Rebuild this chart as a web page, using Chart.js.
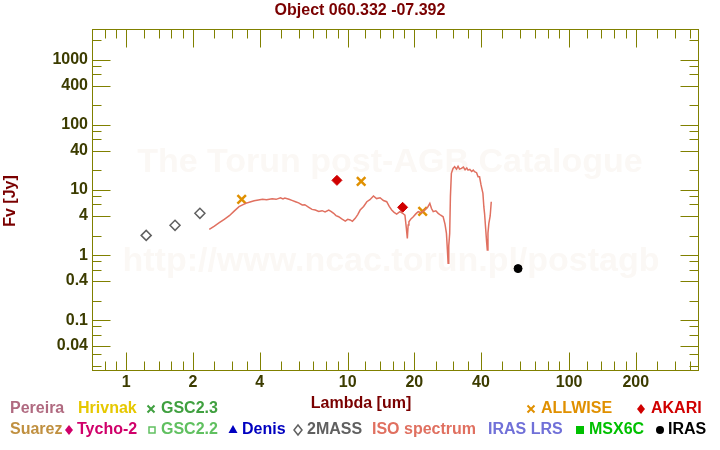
<!DOCTYPE html>
<html>
<head>
<meta charset="utf-8">
<script src="https://cdn.jsdelivr.net/npm/chart.js@4"></script>
<style>
  body { margin: 0; background: #fff; }
  #wrap { width: 720px; height: 450px; }
</style>
</head>
<body>
<div id="wrap"><canvas id="sed"></canvas></div>
<script>
// photometry (wavelength in um, flux in Jy)
const twomassWave = [1.23, 1.66, 2.15];
const twomassFlux = [2.01, 2.87, 4.39];
const allwiseWave = [3.32, 11.5, 21.8];
const allwiseFlux = [7.21, 13.6, 4.71];
const akariWave = [8.94, 17.7];
const akariFlux = [14.1, 5.43];
const irasWave = [58.8];
const irasFlux = [0.62];

// ISO spectrum, traced
const isoWave = [2.37, 2.50, 2.63, 2.77, 2.92, 3.07, 3.23, 3.46, 3.62, 3.78, 3.95, 4.12, 4.30, 4.56, 4.75, 4.97, 5.10, 5.20, 5.43, 5.60,
  5.81, 6.00, 6.23, 6.40, 6.67, 6.90, 7.14, 7.40, 7.66, 7.90, 8.21, 8.40, 8.64, 8.85, 9.10, 9.40, 9.75, 10.0, 10.26, 10.5,
  10.81, 11.1, 11.38, 11.8, 12.2, 12.6, 13.07, 13.5, 14.0, 14.5, 15.0, 15.4, 15.8, 16.2, 16.64, 17.2, 17.7, 18.13, 18.4, 18.59,
  18.75, 18.9, 19.3, 19.78, 20.3, 20.83, 21.5, 22.3, 23.0, 23.49, 23.9, 24.33, 25.0, 25.62, 26.3, 26.98, 27.5, 27.92, 28.2, 28.41,
  28.6, 28.88, 29.1, 29.39, 29.9, 30.41, 31.0, 31.5, 32.0, 32.61, 33.3, 33.9, 34.5, 34.95, 35.6, 36.3, 36.9, 37.41, 38.2, 38.8,
  39.4, 40.0, 40.8, 41.2, 41.5, 42.0, 42.4, 42.7, 43.0, 43.4, 44.0, 44.5];
const isoFlux = [2.49, 2.80, 3.15, 3.55, 4.03, 4.75, 5.55, 6.25, 6.55, 6.86, 7.05, 7.21, 7.10, 7.36, 7.20, 7.63, 7.30, 7.55, 7.21, 6.95,
  6.62, 6.35, 5.89, 5.95, 5.43, 5.05, 4.93, 4.70, 4.82, 4.60, 4.93, 4.70, 4.39, 4.05, 3.89, 3.60, 3.34, 3.55, 3.47, 3.30,
  3.68, 4.20, 4.93, 5.60, 6.62, 7.10, 8.11, 7.40, 7.63, 6.90, 6.62, 5.60, 4.93, 4.55, 4.28, 4.65, 4.40, 4.13, 2.6, 1.81,
  2.9, 3.26, 3.6, 3.89, 4.30, 4.65, 4.50, 4.93, 5.50, 6.25, 5.20, 4.65, 4.80, 4.39, 4.10, 3.89, 3.00, 2.16, 1.20, 0.75,
  1.40, 2.16, 8.0, 18.1, 21.5, 22.9, 21.0, 23.2, 21.0, 21.6, 22.6, 20.5, 21.8, 20.3, 20.8, 19.3, 20.3, 19.2, 18.5, 16.0,
  16.0, 12.0, 8.91, 5.5, 4.39, 2.5, 1.6, 1.20, 2.2, 3.08, 4.0, 6.62];

// axis ticks
const xTicks = [0.8, 0.9, 1, 1.2, 1.4, 1.6, 1.8, 2, 2.5, 3, 3.5, 4, 5, 6, 7, 8, 9, 10, 12, 14, 16, 18, 20, 25, 30, 35, 40,
  50, 60, 70, 80, 90, 100, 120, 140, 160, 180, 200, 250, 300, 350];
const xLabels = [1, 2, 4, 10, 20, 40, 100, 200];
const yTicks = [0.02, 0.03, 0.04, 0.06, 0.08, 0.1, 0.2, 0.4, 0.6, 0.8, 1, 2, 4, 6, 8, 10, 20, 40, 60, 80, 100, 200, 400, 600, 800, 1000, 2000];
const yLabels = [0.04, 0.1, 0.4, 1, 4, 10, 40, 100, 400, 1000];

const pts = (xs, ys) => xs.map((x, i) => ({ x: x, y: ys[i] }));
const isMajor = (v, list) => list.some(l => Math.abs(l - v) < 1e-9);

const OLIVE = '#808000';
const LABEL = '#3c3c00';
const DARKRED = '#7a0000';
const BOLD = 'bold 16px "Liberation Sans", Arial, sans-serif';

// legend entries below the plot; m = marker drawn left of the text
const legendRow1 = [
  { t: 'Pereira', x: 10, c: '#b06a80' },
  { t: 'Hrivnak', x: 78, c: '#e6c800' },
  { t: 'GSC2.3', x: 161, c: '#40a040', m: 'x', mx: 151 },
  { t: 'ALLWISE', x: 541, c: '#e09000', m: 'x', mx: 531 },
  { t: 'AKARI', x: 651, c: '#d00000', m: 'dia', mx: 641 }
];
const legendRow2 = [
  { t: 'Suarez', x: 10, c: '#c09040' },
  { t: 'Tycho-2', x: 77, c: '#d0006a', m: 'dia', mx: 69 },
  { t: 'GSC2.2', x: 161, c: '#60c060', m: 'sq', mx: 152 },
  { t: 'Denis', x: 242, c: '#0000c0', m: 'tri', mx: 233 },
  { t: '2MASS', x: 307, c: '#606060', m: 'odia', mx: 298 },
  { t: 'ISO spectrum', x: 372, c: '#e07060' },
  { t: 'IRAS LRS', x: 488, c: '#7070d8' },
  { t: 'MSX6C', x: 589, c: '#00c000', m: 'fsq', mx: 580 },
  { t: 'IRAS', x: 668, c: '#000000', m: 'dot', mx: 660 }
];

function marker(ctx, kind, x, y, c) {
  ctx.save();
  ctx.strokeStyle = c;
  ctx.fillStyle = c;
  ctx.lineWidth = 2;
  ctx.beginPath();
  if (kind === 'x') {
    ctx.moveTo(x - 3.5, y - 3.5); ctx.lineTo(x + 3.5, y + 3.5);
    ctx.moveTo(x + 3.5, y - 3.5); ctx.lineTo(x - 3.5, y + 3.5);
    ctx.stroke();
  } else if (kind === 'dia' || kind === 'odia') {
    ctx.moveTo(x, y - 5); ctx.lineTo(x + 4, y); ctx.lineTo(x, y + 5); ctx.lineTo(x - 4, y); ctx.closePath();
    if (kind === 'dia') ctx.fill(); else { ctx.lineWidth = 1.5; ctx.stroke(); }
  } else if (kind === 'sq') {
    ctx.lineWidth = 1.5;
    ctx.strokeRect(x - 3, y - 3, 6, 6);
  } else if (kind === 'fsq') {
    ctx.fillRect(x - 4, y - 4, 8, 8);
  } else if (kind === 'tri') {
    ctx.moveTo(x, y - 5); ctx.lineTo(x + 4.5, y + 3); ctx.lineTo(x - 4.5, y + 3); ctx.closePath(); ctx.fill();
  } else if (kind === 'dot') {
    ctx.arc(x, y, 4, 0, Math.PI * 2); ctx.fill();
  }
  ctx.restore();
}

const decor = {
  id: 'decor',
  beforeDatasetsDraw(chart) {
    const ctx = chart.ctx;
    ctx.save();
    ctx.fillStyle = '#fbf8f5';
    ctx.textAlign = 'center';
    ctx.textBaseline = 'middle';
    ctx.font = 'bold 34px "Liberation Sans", Arial, sans-serif';
    ctx.fillText('The Torun post-AGB Catalogue', 390, 163);
    ctx.fillText('http://www.ncac.torun.pl/postagb', 391, 262);
    ctx.restore();
  },
  afterDraw(chart) {
    const ctx = chart.ctx;
    const a = chart.chartArea;
    const xs = chart.scales.x, ys = chart.scales.y;
    ctx.save();
    ctx.strokeStyle = OLIVE;
    ctx.lineWidth = 1;
    const L = Math.round(a.left) + 0.5, R = Math.round(a.right) - 0.5;
    const T = Math.round(a.top) + 0.5, B = Math.round(a.bottom) - 0.5;
    ctx.strokeRect(L, T, R - L, B - T);
    ctx.beginPath();
    xTicks.forEach(v => {
      const len = isMajor(v, xLabels) ? 18 : 9;
      const px = Math.round(xs.getPixelForValue(v)) + 0.5;
      ctx.moveTo(px, B); ctx.lineTo(px, B - len);
      ctx.moveTo(px, T); ctx.lineTo(px, T + len);
    });
    yTicks.forEach(v => {
      const len = isMajor(v, yLabels) ? 18 : 9;
      const py = Math.round(ys.getPixelForValue(v)) + 0.5;
      ctx.moveTo(L, py); ctx.lineTo(L + len, py);
      ctx.moveTo(R, py); ctx.lineTo(R - len, py);
    });
    ctx.stroke();

    ctx.font = BOLD;
    ctx.fillStyle = DARKRED;
    ctx.textAlign = 'center';
    ctx.textBaseline = 'middle';
    ctx.fillText('Object 060.332 -07.392', 360, 11);
    ctx.fillText('Lambda [um]', 361, 404);
    ctx.save();
    ctx.translate(11, 201);
    ctx.rotate(-Math.PI / 2);
    ctx.fillText('Fv [Jy]', 0, 0);
    ctx.restore();

    ctx.textAlign = 'left';
    const drawRow = (row, y) => row.forEach(e => {
      ctx.fillStyle = e.c;
      ctx.font = BOLD;
      ctx.fillText(e.t, e.x, y);
      if (e.m) marker(ctx, e.m, e.mx, y, e.c);
    });
    drawRow(legendRow1, 409);
    drawRow(legendRow2, 430);
    ctx.restore();
  }
};

new Chart(document.getElementById('sed'), {
  type: 'scatter',
  data: {
    datasets: [
      {
        label: 'ISO spectrum',
        data: pts(isoWave, isoFlux),
        showLine: true,
        borderColor: '#e07060',
        borderWidth: 1.5,
        pointRadius: 0,
        tension: 0
      },
      {
        label: '2MASS',
        data: pts(twomassWave, twomassFlux),
        pointStyle: 'rectRot',
        pointRadius: 5,
        borderColor: '#606060',
        backgroundColor: '#ffffff',
        borderWidth: 1.5
      },
      {
        label: 'ALLWISE',
        data: pts(allwiseWave, allwiseFlux),
        pointStyle: 'crossRot',
        pointRadius: 6,
        borderColor: '#e09000',
        borderWidth: 2.5
      },
      {
        label: 'AKARI',
        data: pts(akariWave, akariFlux),
        pointStyle: 'rectRot',
        pointRadius: 5,
        borderColor: '#d00000',
        backgroundColor: '#d00000',
        borderWidth: 1
      },
      {
        label: 'IRAS',
        data: pts(irasWave, irasFlux),
        pointStyle: 'circle',
        pointRadius: 4,
        borderColor: '#000000',
        backgroundColor: '#000000'
      }
    ]
  },
  options: {
    responsive: true,
    maintainAspectRatio: false,
    animation: false,
    layout: { padding: { top: 29, right: 21, left: 0, bottom: 0 } },
    plugins: {
      legend: { display: false },
      tooltip: { enabled: false }
    },
    scales: {
      x: {
        type: 'logarithmic',
        min: 0.723,
        max: 386,
        grid: { display: false, drawTicks: false },
        border: { display: false },
        afterFit: s => { s.height = 79; },
        afterBuildTicks: s => { s.ticks = xTicks.map(v => ({ value: v })); },
        ticks: {
          autoSkip: false,
          maxRotation: 0,
          padding: 2,
          color: LABEL,
          font: { family: '"Liberation Sans", Arial, sans-serif', size: 16, weight: 'bold' },
          callback: v => isMajor(v, xLabels) ? String(v) : ''
        }
      },
      y: {
        type: 'logarithmic',
        min: 0.0165,
        max: 3000,
        grid: { display: false, drawTicks: false },
        border: { display: false },
        afterFit: s => { s.width = 92; },
        afterBuildTicks: s => { s.ticks = yTicks.map(v => ({ value: v })); },
        ticks: {
          autoSkip: false,
          padding: 4,
          color: LABEL,
          font: { family: '"Liberation Sans", Arial, sans-serif', size: 16, weight: 'bold' },
          callback: v => isMajor(v, yLabels) ? String(v) : ''
        }
      }
    }
  },
  plugins: [decor]
});
</script>
</body>
</html>
